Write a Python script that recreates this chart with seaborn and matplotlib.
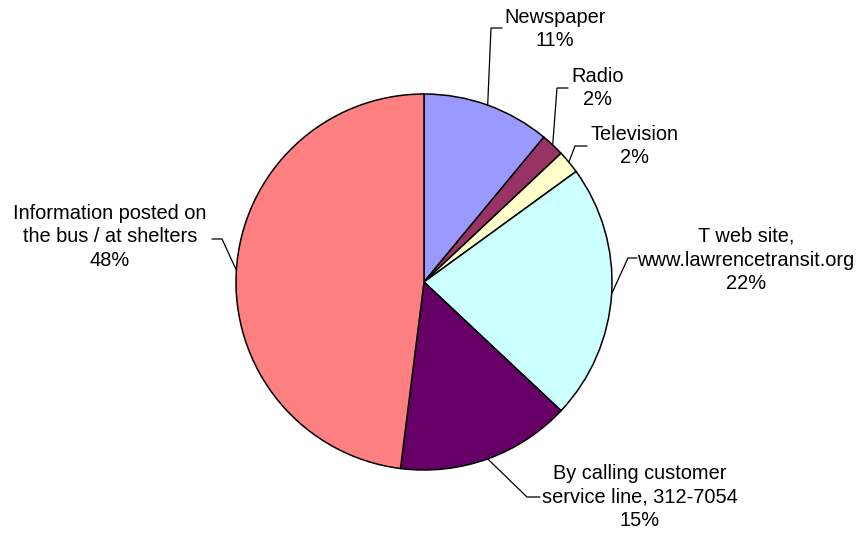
import matplotlib
matplotlib.use("Agg")
import matplotlib.pyplot as plt
import numpy as np
import seaborn as sns

# Survey: how riders get information about the T
sources = [
    "Newspaper",
    "Radio",
    "Television",
    "T web site,\nwww.lawrencetransit.org",
    "By calling customer\nservice line, 312-7054",
    "Information posted on\nthe bus / at shelters",
]
shares = [11, 2, 2, 22, 15, 48]
colors = ["#9999FF", "#993366", "#FFFFCC", "#CCFFFF", "#660066", "#FF8080"]

sns.set_theme(style="white")
plt.rcParams["font.family"] = ["Liberation Sans", "DejaVu Sans"]

W, H = 862, 535
fig = plt.figure(figsize=(W / 100, H / 100), dpi=100)
ax = fig.add_axes([0, 0, 1, 1])


def px(x, y):
    """Pixel position (origin top-left) to axes data coordinates."""
    return x, H - y


cx, cy = px(424, 282)
r = 188
wedges, _ = ax.pie(
    shares,
    colors=colors,
    startangle=90,
    counterclock=False,
    center=(cx, cy),
    radius=r,
    wedgeprops=dict(edgecolor="black", linewidth=1.1),
    frame=True,
)
ax.set_xlim(0, W)
ax.set_ylim(0, H)
ax.set_aspect("equal")
ax.axis("off")

# label block centres and the short horizontal stub of each leader line
label_xy = [(555, 29), (598, 88), (635, 146), (746, 260), (640, 497), (110, 237)]
stubs = [
    ((502, 28), (491, 28)),
    ((568, 88), (557, 88)),
    ((587, 146), (575, 146)),
    ((637, 258), (628, 258)),
    ((540, 497), (527, 497)),
    ((212, 239), (222, 239)),
]

for w, name, share, (lx, ly), (s0, s1) in zip(wedges, sources, shares, label_xy, stubs):
    ax.text(*px(lx, ly), f"{name}\n{share}%", ha="center", va="center",
            fontsize=14.4, color="black", linespacing=1.32)
    mid = np.deg2rad((w.theta1 + w.theta2) / 2)
    ex, ey = cx + r * np.cos(mid), cy + r * np.sin(mid)
    a, b = px(*s0), px(*s1)
    ax.plot([a[0], b[0], ex], [a[1], b[1], ey], color="black", lw=0.9,
            solid_joinstyle="miter")

fig.savefig("out.png", dpi=100, facecolor="white")
